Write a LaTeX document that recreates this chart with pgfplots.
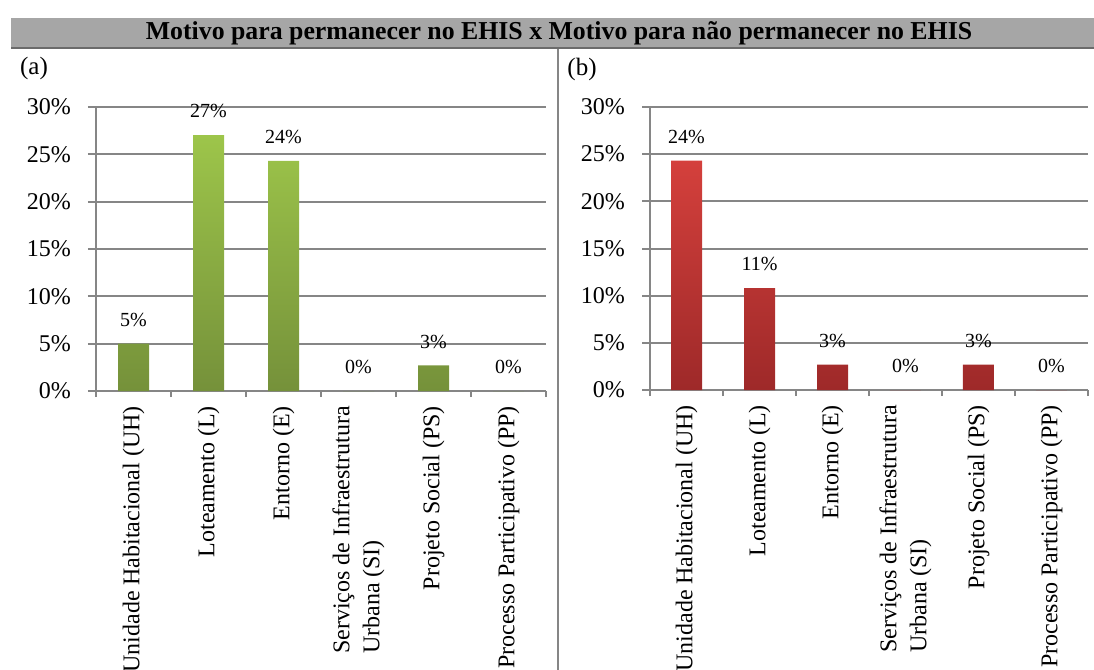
\documentclass[border=0pt]{standalone}
\usepackage{fontspec}
\setmainfont{Liberation Serif}
\usepackage{pgfplots}
\pgfplotsset{compat=1.18}
\definecolor{gtop}{RGB}{157,197,74}
\definecolor{gbot}{RGB}{117,145,58}
\definecolor{rtop}{RGB}{212,64,60}
\definecolor{rbot}{RGB}{158,41,41}
\definecolor{titlegray}{RGB}{166,166,166}
\definecolor{linegray}{RGB}{134,134,134}
\pgfplotsset{
  panel/.style={
    scale only axis,
    anchor=south west,
    ymin=0, ymax=30,
    xmin=-0.5, xmax=5.5,
    ytick={0,5,...,30},
    yticklabel={\pgfmathprintnumber{\tick}\%},
    xtick={0,...,5},
    xticklabels={Unidade Habitacional (UH), Loteamento (L), Entorno (E), {Serviços de Infraestrutura\\Urbana (SI)}, Projeto Social (PS), Processo Participativo (PP)},
    minor xtick={-0.5,0.5,...,5.5},
    major x tick style={draw=none},
    minor x tick style={draw=linegray, line width=1pt},
    minor tick length=3pt,
    y tick style={draw=linegray, line width=1pt},
    major tick length=4pt,
    tick align=outside,
    axis lines*=left,
    axis line style={draw=linegray, line width=1pt},
    ymajorgrids,
    grid style={draw=linegray, line width=1pt},
    /pgf/number format/assume math mode=true,
    yticklabel style={font=\fontsize{12}{14}\selectfont, xshift=-5pt},
    xticklabel style={font=\fontsize{12}{15}\selectfont, rotate=90, anchor=east, align=left, yshift=0pt},
    ybar, bar width=15.5pt,
    nodes near coords={\pgfmathprintnumber[fixed,precision=0]{\pgfplotspointmeta}\%},
    every node near coord/.append style={font=\fontsize{10}{12}\selectfont, text=black, yshift=5pt},
    clip=false,
  }
}
\begin{document}
\begin{tikzpicture}
\useasboundingbox (0,0) rectangle (547pt,335pt);
% title bar
\fill[titlegray] (5.5pt,311pt) rectangle (547pt,326pt);
\draw[draw=linegray!80!black, line width=1pt] (5.5pt,311pt) -- (547pt,311pt);
\node[font=\fontsize{12.9}{15}\selectfont\bfseries] at (279.5pt,318.5pt) {Motivo para permanecer no EHIS x Motivo para não permanecer no EHIS};
% divider
\draw[draw=linegray, line width=1pt] (279pt,0pt) -- (279pt,310.5pt);
\node[font=\fontsize{12.5}{14}\selectfont] at (17pt,301pt) {(a)};
\node[font=\fontsize{12.5}{14}\selectfont] at (291pt,300.5pt) {(b)};

\begin{axis}[panel, at={(48pt,139.5pt)}, width=225pt, height=142pt]
\addplot[draw=none, top color=gtop, bottom color=gbot] coordinates {(0,5.0) (1,27.03) (2,24.32) (3,0) (4,2.70) (5,0)};
\end{axis}

\begin{axis}[panel, at={(325pt,140pt)}, width=219pt, height=141.5pt]
\addplot[draw=none, top color=rtop, bottom color=rbot] coordinates {(0,24.32) (1,10.81) (2,2.70) (3,0) (4,2.70) (5,0)};
\end{axis}
\end{tikzpicture}
\end{document}
